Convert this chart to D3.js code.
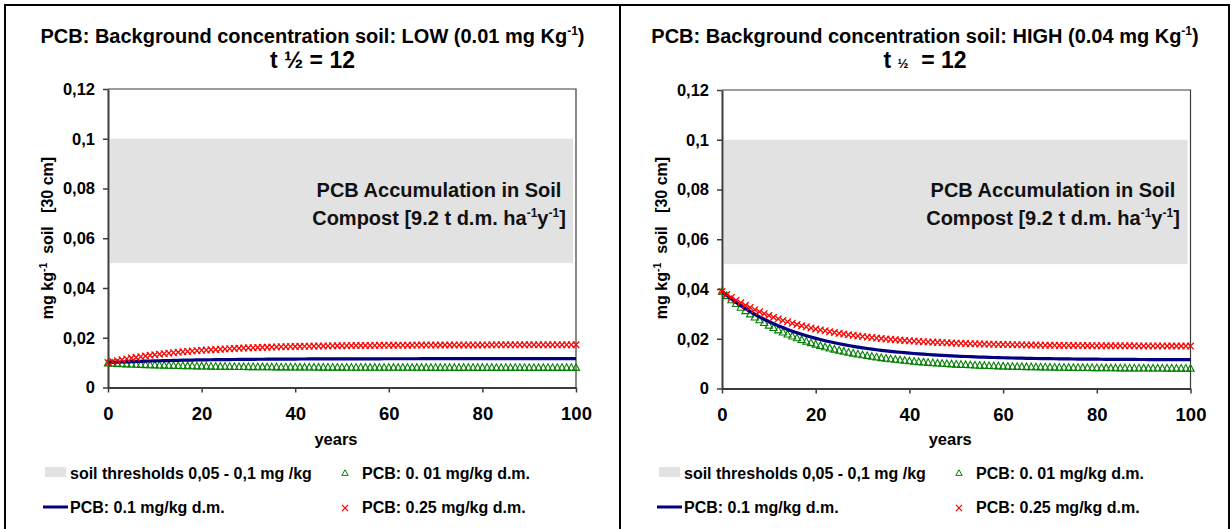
<!DOCTYPE html>
<html>
<head>
<meta charset="utf-8">
<script src="https://cdn.jsdelivr.net/npm/d3@7"></script>
<style>
  html, body { margin: 0; padding: 0; background: #fff; }
  svg { display: block; font-family: "Liberation Sans", Arial, sans-serif; font-weight: bold; }
  text { white-space: pre; }
</style>
</head>
<body>
<svg id="chart" width="1232" height="529"></svg>
<script>
// ---------- data ----------
const years = d3.range(0, 101);
const xTicks = [0, 20, 40, 60, 80, 100];
const yTicks = [0, 0.02, 0.04, 0.06, 0.08, 0.1, 0.12];
const yTickLabels = ["0", "0,02", "0,04", "0,06", "0,08", "0,1", "0,12"];
const thresholdBand = [0.05, 0.1];

const seriesNames = ["PCB: 0. 01 mg/kg d.m.", "PCB: 0.1 mg/kg d.m.", "PCB: 0.25 mg/kg d.m."];
const bandName = "soil thresholds 0,05 - 0,1 mg /kg";

// LOW background (0.01 mg/kg)
const lowGreen = [0.00980,0.00970,0.00960,0.00951,0.00943,0.00935,0.00927,0.00920,0.00913,0.00907,
 0.00901,0.00895,0.00890,0.00885,0.00880,0.00876,0.00871,0.00867,0.00864,0.00860,
 0.00857,0.00854,0.00851,0.00848,0.00845,0.00842,0.00840,0.00838,0.00836,0.00834,
 0.00832,0.00830,0.00828,0.00827,0.00825,0.00824,0.00823,0.00821,0.00820,0.00819,
 0.00818,0.00817,0.00816,0.00815,0.00814,0.00813,0.00813,0.00812,0.00811,0.00811,
 0.00810,0.00809,0.00809,0.00808,0.00808,0.00808,0.00807,0.00807,0.00806,0.00806,
 0.00806,0.00805,0.00805,0.00805,0.00804,0.00804,0.00804,0.00804,0.00804,0.00803,
 0.00803,0.00803,0.00803,0.00803,0.00803,0.00802,0.00802,0.00802,0.00802,0.00802,
 0.00802,0.00802,0.00802,0.00801,0.00801,0.00801,0.00801,0.00801,0.00801,0.00801,
 0.00801,0.00801,0.00801,0.00801,0.00801,0.00801,0.00801,0.00801,0.00801,0.00801,
 0.00801];
const lowBlue = [0.01000,0.01009,0.01017,0.01025,0.01033,0.01040,0.01047,0.01053,0.01059,0.01065,
 0.01070,0.01075,0.01080,0.01084,0.01089,0.01093,0.01097,0.01100,0.01103,0.01107,
 0.01110,0.01112,0.01115,0.01118,0.01120,0.01122,0.01124,0.01126,0.01128,0.01130,
 0.01132,0.01133,0.01135,0.01136,0.01138,0.01139,0.01140,0.01141,0.01142,0.01143,
 0.01144,0.01145,0.01146,0.01147,0.01147,0.01148,0.01149,0.01149,0.01150,0.01151,
 0.01151,0.01152,0.01152,0.01153,0.01153,0.01153,0.01154,0.01154,0.01154,0.01155,
 0.01155,0.01155,0.01156,0.01156,0.01156,0.01156,0.01156,0.01157,0.01157,0.01157,
 0.01157,0.01157,0.01158,0.01158,0.01158,0.01158,0.01158,0.01158,0.01158,0.01158,
 0.01158,0.01159,0.01159,0.01159,0.01159,0.01159,0.01159,0.01159,0.01159,0.01159,
 0.01159,0.01159,0.01159,0.01159,0.01159,0.01159,0.01159,0.01159,0.01159,0.01159,
 0.01159];
const lowRed = [0.01000,0.01040,0.01079,0.01115,0.01149,0.01181,0.01211,0.01239,0.01266,0.01292,
 0.01316,0.01339,0.01360,0.01380,0.01399,0.01417,0.01434,0.01450,0.01465,0.01480,
 0.01493,0.01506,0.01518,0.01529,0.01540,0.01550,0.01560,0.01569,0.01577,0.01585,
 0.01593,0.01600,0.01607,0.01613,0.01619,0.01625,0.01630,0.01635,0.01640,0.01644,
 0.01649,0.01653,0.01656,0.01660,0.01663,0.01666,0.01669,0.01672,0.01675,0.01678,
 0.01680,0.01682,0.01684,0.01686,0.01688,0.01690,0.01692,0.01693,0.01695,0.01696,
 0.01697,0.01699,0.01700,0.01701,0.01702,0.01703,0.01704,0.01705,0.01706,0.01707,
 0.01707,0.01708,0.01709,0.01709,0.01710,0.01711,0.01711,0.01712,0.01712,0.01712,
 0.01713,0.01713,0.01714,0.01714,0.01714,0.01715,0.01715,0.01715,0.01716,0.01716,
 0.01716,0.01716,0.01716,0.01717,0.01717,0.01717,0.01717,0.01717,0.01717,0.01717,
 0.01718];

// HIGH background (0.04 mg/kg)
const highGreen = [0.03900,0.03726,0.03562,0.03407,0.03260,0.03122,0.02992,0.02869,0.02753,0.02643,
 0.02540,0.02442,0.02350,0.02263,0.02181,0.02103,0.02030,0.01961,0.01896,0.01835,
 0.01776,0.01722,0.01670,0.01621,0.01575,0.01532,0.01490,0.01452,0.01415,0.01381,
 0.01348,0.01317,0.01288,0.01261,0.01235,0.01211,0.01188,0.01166,0.01145,0.01126,
 0.01108,0.01090,0.01074,0.01059,0.01044,0.01030,0.01017,0.01005,0.00994,0.00983,
 0.00973,0.00963,0.00954,0.00945,0.00937,0.00929,0.00922,0.00915,0.00909,0.00903,
 0.00897,0.00891,0.00886,0.00881,0.00877,0.00873,0.00869,0.00865,0.00861,0.00858,
 0.00854,0.00851,0.00848,0.00846,0.00843,0.00841,0.00838,0.00836,0.00834,0.00832,
 0.00831,0.00829,0.00827,0.00826,0.00824,0.00823,0.00822,0.00820,0.00819,0.00818,
 0.00817,0.00816,0.00815,0.00814,0.00814,0.00813,0.00812,0.00811,0.00811,0.00810,
 0.00810];
const highBlue = [0.03900,0.03746,0.03600,0.03462,0.03333,0.03210,0.03095,0.02985,0.02882,0.02785,
 0.02693,0.02607,0.02525,0.02448,0.02375,0.02306,0.02241,0.02180,0.02122,0.02068,
 0.02016,0.01968,0.01922,0.01878,0.01838,0.01799,0.01762,0.01728,0.01696,0.01665,
 0.01636,0.01609,0.01583,0.01559,0.01536,0.01514,0.01494,0.01474,0.01456,0.01439,
 0.01423,0.01408,0.01393,0.01379,0.01367,0.01354,0.01343,0.01332,0.01322,0.01312,
 0.01303,0.01295,0.01286,0.01279,0.01272,0.01265,0.01258,0.01252,0.01246,0.01241,
 0.01236,0.01231,0.01227,0.01222,0.01218,0.01214,0.01211,0.01207,0.01204,0.01201,
 0.01198,0.01196,0.01193,0.01191,0.01188,0.01186,0.01184,0.01182,0.01180,0.01179,
 0.01177,0.01176,0.01174,0.01173,0.01171,0.01170,0.01169,0.01168,0.01167,0.01166,
 0.01165,0.01164,0.01164,0.01163,0.01162,0.01161,0.01161,0.01160,0.01160,0.01159,
 0.01159];
const highRed = [0.03900,0.03777,0.03660,0.03550,0.03446,0.03348,0.03256,0.03168,0.03086,0.03008,
 0.02935,0.02865,0.02800,0.02738,0.02680,0.02625,0.02573,0.02524,0.02478,0.02434,
 0.02393,0.02354,0.02317,0.02283,0.02250,0.02219,0.02190,0.02162,0.02137,0.02112,
 0.02089,0.02067,0.02046,0.02027,0.02009,0.01991,0.01975,0.01960,0.01945,0.01931,
 0.01918,0.01906,0.01894,0.01884,0.01873,0.01864,0.01854,0.01846,0.01838,0.01830,
 0.01822,0.01816,0.01809,0.01803,0.01797,0.01792,0.01787,0.01782,0.01777,0.01773,
 0.01769,0.01765,0.01761,0.01758,0.01755,0.01752,0.01749,0.01746,0.01743,0.01741,
 0.01739,0.01736,0.01734,0.01732,0.01731,0.01729,0.01727,0.01726,0.01724,0.01723,
 0.01722,0.01720,0.01719,0.01718,0.01717,0.01716,0.01715,0.01714,0.01714,0.01713,
 0.01712,0.01711,0.01711,0.01710,0.01710,0.01709,0.01709,0.01708,0.01708,0.01707,
 0.01707];

// ---------- drawing ----------
const svg = d3.select("#chart");
const C = { green: "#008000", blue: "#000080", red: "#ff0000", band: "#e2e2e2", axis: "#3c3c3c" };

// panel borders
const borderG = svg.append("g").attr("stroke", "#000").attr("stroke-width", 2).attr("fill", "none");
borderG.append("line").attr("x1", 4).attr("x2", 1230).attr("y1", 5).attr("y2", 5);
borderG.append("line").attr("x1", 5).attr("x2", 5).attr("y1", 4).attr("y2", 540);
borderG.append("line").attr("x1", 620).attr("x2", 620).attr("y1", 4).attr("y2", 540);
borderG.append("line").attr("x1", 1229).attr("x2", 1229).attr("y1", 4).attr("y2", 540);

const panels = [
  { cx: 312.5, x0: 108, x1: 576, yb: 387.5, yt: 89, level: "LOW (0.01 mg Kg", smallHalf: false,
    green: lowGreen, blue: lowBlue, red: lowRed },
  { cx: 925, x0: 722, x1: 1190.5, yb: 388.5, yt: 90, level: "HIGH (0.04 mg Kg", smallHalf: true,
    green: highGreen, blue: highBlue, red: highRed }
];

const triPath = "M0,-3.8L3.6,2.8L-3.6,2.8Z";
const crossPath = "M-3.3,-3.3L3.3,3.3M-3.3,3.3L3.3,-3.3";

panels.forEach(p => {
  const g = svg.append("g");
  const x = d3.scaleLinear().domain([0, 100]).range([p.x0, p.x1]);
  const y = d3.scaleLinear().domain([0, 0.12]).range([p.yb, p.yt]);

  // title
  const t1 = g.append("text").attr("x", p.cx).attr("y", 43).attr("text-anchor", "middle")
    .attr("font-size", 20).attr("fill", "#000");
  t1.append("tspan").text("PCB: Background concentration soil: " + p.level);
  t1.append("tspan").attr("font-size", 12).attr("dy", -8).text("-1");
  t1.append("tspan").attr("dy", 8).text(")");

  const t2 = g.append("text").attr("x", p.cx).attr("y", 68).attr("text-anchor", "middle")
    .attr("font-size", 23).attr("fill", "#000");
  if (p.smallHalf) {
    t2.append("tspan").text("t ");
    t2.append("tspan").attr("font-size", 13).text("½");
    t2.append("tspan").text("  = 12");
  } else {
    t2.text("t ½ = 12");
  }

  // threshold band
  g.append("rect")
    .attr("x", x(0) + 2).attr("width", x(100) - x(0) - 5)
    .attr("y", y(thresholdBand[1])).attr("height", y(thresholdBand[0]) - y(thresholdBand[1]))
    .attr("fill", C.band);

  // band text
  const bx = x(0) + 331;
  g.append("text").attr("x", bx).attr("y", 197).attr("text-anchor", "middle")
    .attr("font-size", 20).attr("fill", "#111").text("PCB Accumulation in Soil");
  const bt = g.append("text").attr("x", bx).attr("y", 225).attr("text-anchor", "middle")
    .attr("font-size", 20).attr("fill", "#111");
  bt.append("tspan").text("Compost [9.2 t d.m. ha");
  bt.append("tspan").attr("font-size", 12).attr("dy", -8).text("-1");
  bt.append("tspan").attr("dy", 8).text("y");
  bt.append("tspan").attr("font-size", 12).attr("dy", -8).text("-1");
  bt.append("tspan").attr("dy", 8).text("]");

  // plot frame (top & right)
  g.append("path")
    .attr("d", `M${x(0)},${y(0.12)}H${x(100)}V${y(0)}`)
    .attr("fill", "none").attr("stroke", C.axis).attr("stroke-width", 1.2);

  // axes
  const yAxis = d3.axisLeft(y).tickValues(yTicks)
    .tickFormat((d, i) => yTickLabels[i]).tickSize(5).tickSizeOuter(0).tickPadding(8);
  const ya = g.append("g").attr("transform", `translate(${x(0)},0)`).call(yAxis);
  const xAxis = d3.axisBottom(x).tickValues(xTicks).tickSize(5).tickSizeOuter(0).tickPadding(14);
  const xa = g.append("g").attr("transform", `translate(0,${y(0)})`).call(xAxis);
  [ya, xa].forEach(a => {
    a.select(".domain").attr("stroke", C.axis).attr("stroke-width", 2);
    a.selectAll(".tick line").attr("stroke", C.axis).attr("stroke-width", 1.5);
    a.selectAll(".tick text").attr("fill", "#000").attr("font-family", "Liberation Sans, Arial, sans-serif")
      .attr("font-weight", "bold");
  });
  ya.selectAll(".tick text").attr("font-size", 16.5);
  xa.selectAll(".tick text").attr("font-size", 18.5);

  // axis titles
  g.append("text").attr("x", (x(0) + x(100)) / 2 - 6).attr("y", 445).attr("text-anchor", "middle")
    .attr("font-size", 16.5).attr("fill", "#000").text("years");
  const yt = g.append("text").attr("transform", `translate(${x(0) - 55},238) rotate(-90)`)
    .attr("text-anchor", "middle").attr("font-size", 16).attr("fill", "#000");
  yt.append("tspan").text("mg kg");
  yt.append("tspan").attr("font-size", 10.5).attr("dy", -6).text("-1");
  yt.append("tspan").attr("dy", 6).text("  soil   [30 cm]");

  // series: green triangles
  g.append("g").selectAll("path").data(years).join("path")
    .attr("transform", (d, i) => `translate(${x(d)},${y(p.green[i])})`)
    .attr("d", triPath).attr("fill", "none").attr("stroke", C.green).attr("stroke-width", 1.1);

  // blue line
  g.append("path").datum(years)
    .attr("d", d3.line().x(d => x(d)).y((d, i) => y(p.blue[i])))
    .attr("fill", "none").attr("stroke", C.blue).attr("stroke-width", 3.2);

  // red crosses
  g.append("g").selectAll("path").data(years).join("path")
    .attr("transform", (d, i) => `translate(${x(d)},${y(p.red[i])})`)
    .attr("d", crossPath).attr("fill", "none").attr("stroke", C.red).attr("stroke-width", 1.3);

  // legend
  const L = svg.append("g").attr("font-size", 16).attr("fill", "#000");
  const lx = p.x0 - 63, mx = p.x0 + 237, tx2 = p.x0 + 254;
  L.append("rect").attr("x", lx).attr("y", 467).attr("width", 21).attr("height", 10).attr("fill", C.band);
  L.append("text").attr("x", lx + 25).attr("y", 479).text(bandName);
  L.append("path").attr("transform", `translate(${mx},473)`).attr("d", "M0,-3.2L3.2,2.4L-3.2,2.4Z")
    .attr("fill", "none").attr("stroke", C.green).attr("stroke-width", 1);
  L.append("text").attr("x", tx2).attr("y", 479).text(seriesNames[0]);
  L.append("line").attr("x1", lx - 2).attr("x2", lx + 23).attr("y1", 507).attr("y2", 507)
    .attr("stroke", C.blue).attr("stroke-width", 3);
  L.append("text").attr("x", lx + 25).attr("y", 513).text(seriesNames[1]);
  L.append("path").attr("transform", `translate(${mx},508)`).attr("d", "M-3,-3L3,3M-3,3L3,-3")
    .attr("fill", "none").attr("stroke", C.red).attr("stroke-width", 1.1);
  L.append("text").attr("x", tx2).attr("y", 513).text(seriesNames[2]);
});
</script>
</body>
</html>
